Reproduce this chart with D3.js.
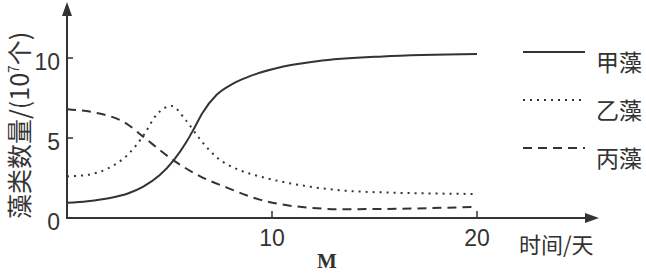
<!DOCTYPE html>
<head>
  <meta charset="utf-8">
  <script src="https://d3js.org/d3.v7.min.js"></script>
  <style>
    body { margin:0; background:#fff; }
  </style>
</head>
<body>
<svg width="646" height="273"></svg>
<script>

// 甲藻 (solid)
const jiaX = [0, 1, 2.1, 3, 3.7, 4.5, 5.2, 5.8, 6.2, 6.6, 7.3, 8.1, 8.9, 10.5, 12.2, 15.4, 20]
const jiaY = [0.95, 1.05, 1.25, 1.55, 1.95, 2.65, 3.6, 4.7, 5.6, 6.55, 7.7, 8.4, 8.85, 9.45, 9.8, 10.1, 10.25]
// 乙藻 (dotted)
const yiX = [0, 1, 2, 3, 3.7, 4.4, 5.1, 5.8, 6.5, 7.3, 8.4, 9.4, 11.9, 14.3, 20]
const yiY = [2.6, 2.7, 3.1, 4.0, 5.1, 6.5, 7.0, 6.1, 4.9, 3.8, 3.0, 2.6, 1.95, 1.65, 1.5]
// 丙藻 (dashed)
const bingX = [0, 1.3, 2.9, 3.7, 5.2, 6.5, 7.8, 9.4, 11, 13.5, 17.1, 20]
const bingY = [6.8, 6.6, 5.9, 5.1, 3.6, 2.6, 1.9, 1.15, 0.75, 0.55, 0.6, 0.7]

const xTicks = [10, 20]
const yTicks = [0, 5, 10]
const names = ["甲藻", "乙藻", "丙藻"]

const svg = d3.select("svg")
const ink = "#333"

const x = d3.scaleLinear().domain([0, 20]).range([67, 477])
const y = d3.scaleLinear().domain([0, 10]).range([218, 58])

// axes
svg.append("line").attr("x1", 67).attr("y1", 218).attr("x2", 67).attr("y2", 10)
  .attr("stroke", ink).attr("stroke-width", 2)
svg.append("path").attr("d", "M67,2 L62,16 L72,16 Z").attr("fill", ink)
svg.append("line").attr("x1", 66).attr("y1", 218).attr("x2", 590).attr("y2", 218)
  .attr("stroke", ink).attr("stroke-width", 2)
svg.append("path").attr("d", "M599,218 L585,213 L585,223 Z").attr("fill", ink)

svg.selectAll(".yt").data(yTicks.filter(d => d > 0)).enter().append("line")
  .attr("x1", 67).attr("x2", 73).attr("y1", d => y(d)).attr("y2", d => y(d))
  .attr("stroke", ink).attr("stroke-width", 1.5)
svg.selectAll(".xt").data(xTicks).enter().append("line")
  .attr("x1", d => x(d)).attr("x2", d => x(d)).attr("y1", 218).attr("y2", 211)
  .attr("stroke", ink).attr("stroke-width", 1.5)

svg.selectAll(".yl").data(yTicks).enter().append("text")
  .attr("x", 60).attr("y", d => y(d) + 12).attr("text-anchor", "end")
  .attr("font-family", "Liberation Sans").attr("font-size", 23).attr("fill", ink)
  .text(d => d)
svg.selectAll(".xl").data(xTicks).enter().append("text")
  .attr("x", d => x(d)).attr("y", 246).attr("text-anchor", "middle")
  .attr("font-family", "Liberation Sans").attr("font-size", 23).attr("fill", ink)
  .text(d => d)

svg.append("text").attr("x", 327).attr("y", 268).attr("text-anchor", "middle")
  .attr("font-family", "Liberation Serif").attr("font-weight", "bold")
  .attr("font-size", 21).attr("fill", ink).text("M")

svg.append("text").attr("x", 519).attr("y", 253)
  .attr("font-family", "Noto Sans CJK SC").attr("font-size", 22).attr("fill", ink)
  .text("时间/天")

const yl = svg.append("text").attr("transform", "translate(29,219) rotate(-90)")
  .attr("font-family", "Noto Sans CJK SC").attr("font-size", 25).attr("fill", ink)
yl.append("tspan").text("藻类数量/(10")
yl.append("tspan").attr("font-size", 14).attr("dy", -10).text("7")
yl.append("tspan").attr("dy", 10).text("个)")

// curves
const line = d3.line().x(d => x(d[0])).y(d => y(d[1])).curve(d3.curveMonotoneX)
const series = [
  { xs: jiaX, ys: jiaY, dash: null },
  { xs: yiX, ys: yiY, dash: "2,5" },
  { xs: bingX, ys: bingY, dash: "9,6" }
]
svg.selectAll(".curve").data(series).enter().append("path")
  .attr("d", s => line(s.xs.map((v, i) => [v, s.ys[i]])))
  .attr("fill", "none").attr("stroke", ink).attr("stroke-width", 2)
  .attr("stroke-dasharray", s => s.dash)

// legend
const ly = [52, 100, 148]
svg.selectAll(".lg").data(series).enter().append("line")
  .attr("x1", 523).attr("x2", 585).attr("y1", (d, i) => ly[i]).attr("y2", (d, i) => ly[i])
  .attr("stroke", ink).attr("stroke-width", 2).attr("stroke-dasharray", s => s.dash)
svg.selectAll(".lt").data(names).enter().append("text")
  .attr("x", 596).attr("y", (d, i) => ly[i] + 19)
  .attr("font-family", "Noto Sans CJK SC").attr("font-size", 23).attr("fill", ink)
  .text(d => d)

</script>
</body>
